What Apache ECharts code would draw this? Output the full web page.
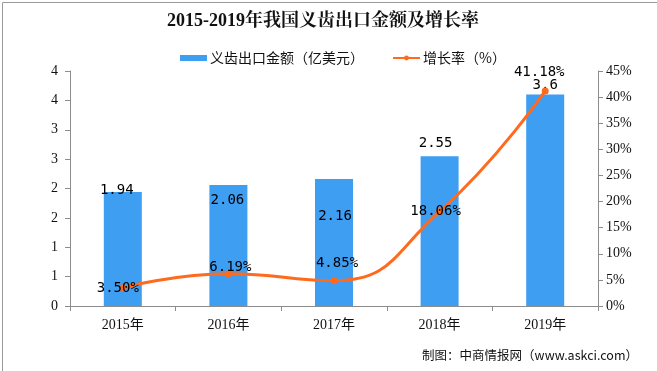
<!DOCTYPE html>
<html>
<head>
<meta charset="utf-8">
<script src="https://cdn.jsdelivr.net/npm/echarts@6/dist/echarts.min.js"></script>
<style>html,body{margin:0;padding:0;background:#fff}#c{width:657px;height:371px}</style>
</head>
<body>
<div id="c"></div>
<script>
const categories = ['2015年', '2016年', '2017年', '2018年', '2019年'];
const exportValues = [1.94, 2.06, 2.16, 2.55, 3.6];
const growthRates = [3.50, 6.19, 4.85, 18.06, 41.18];
const barName = '义齿出口金额（亿美元）';
const lineName = '增长率（%）';

const numFont = "'DejaVu Sans Mono', monospace";
const axisFont = "'Liberation Serif', 'Noto Sans CJK SC', serif";
const cjkFont = "'Noto Sans CJK SC', sans-serif";

const barLabelCfg = [
  {position: 'top', distance: 0, offset: [-6, 5]},
  {position: 'insideTop', distance: 5, offset: [-1, 3]},
  {position: 'insideTop', distance: 5, offset: [1, 25]},
  {position: 'top', distance: 6, offset: [-4, 0]},
  {position: 'top', distance: 2, offset: [0, 0]}
];
const lineLabelCfg = [
  {position: 'inside', offset: [-5, 1]},
  {position: 'inside', offset: [2, -6]},
  {position: 'inside', offset: [3, -17]},
  {position: 'inside', offset: [-4, 0]},
  {position: 'inside', offset: [-6, -19]}
];

const chart = echarts.init(document.getElementById('c'), null, {renderer: 'canvas'});
chart.setOption({
  animation: false,
  backgroundColor: '#fff',
  title: {
    text: '2015-2019年我国义齿出口金额及增长率',
    left: 167, top: 12,
    textStyle: {fontFamily: "'Liberation Serif', 'Noto Serif CJK SC', 'Noto Sans CJK SC', serif", fontSize: 18, fontWeight: 'bold', color: '#111'},
    padding: [0, 0, 0, 0],
    itemGap: 0
  },
  legend: {
    top: 46, left: 175,
    itemGap: 28,
    textStyle: {fontFamily: cjkFont, fontSize: 14, color: '#111', padding: [0, 0, 0, -2]},
    data: [
      {name: barName, icon: 'rect', itemStyle: {color: '#3E9EF2'}},
      {name: lineName}
    ],
    itemWidth: 27, itemHeight: 6
  },
  grid: {left: 70, right: 59, top: 71, bottom: 65},
  xAxis: {
    type: 'category',
    data: categories,
    axisLine: {lineStyle: {color: '#8c8c8c'}},
    axisTick: {show: true, length: 5, lineStyle: {color: '#8c8c8c'}},
    axisLabel: {fontFamily: axisFont, fontSize: 14, color: '#111', margin: 12}
  },
  yAxis: [
    {
      type: 'value', min: 0, max: 4, interval: 0.5,
      axisLine: {show: true, lineStyle: {color: '#8c8c8c'}},
      axisTick: {show: true, length: 5, lineStyle: {color: '#8c8c8c'}},
      splitLine: {show: false},
      axisLabel: {fontFamily: axisFont, fontSize: 14, color: '#111', margin: 12,
        formatter: v => String(Math.round(v))}
    },
    {
      type: 'value', min: 0, max: 45, interval: 5,
      axisLine: {show: true, lineStyle: {color: '#8c8c8c'}},
      axisTick: {show: true, length: 5, lineStyle: {color: '#8c8c8c'}},
      splitLine: {show: false},
      axisLabel: {fontFamily: axisFont, fontSize: 14, color: '#111', margin: 8,
        formatter: v => v + '%'}
    }
  ],
  series: [
    {
      name: barName, type: 'bar', yAxisIndex: 0,
      barWidth: 38,
      itemStyle: {color: '#3E9EF2'},
      data: exportValues.map((v, i) => ({
        value: v,
        label: Object.assign({show: true, fontFamily: numFont, fontSize: 14, color: '#000',
          formatter: p => String(p.value)}, barLabelCfg[i])
      })),
      z: 2
    },
    {
      name: lineName, type: 'line', yAxisIndex: 1,
      smooth: 0.5,
      symbol: 'circle', symbolSize: 7,
      lineStyle: {color: '#FF6A1C', width: 3},
      itemStyle: {color: '#FF6A1C'},
      data: growthRates.map((v, i) => ({
        value: v,
        label: Object.assign({show: true, fontFamily: numFont, fontSize: 14, color: '#000',
          formatter: p => p.value.toFixed(2) + '%'}, lineLabelCfg[i])
      })),
      z: 3
    }
  ],
  graphic: [
    {type: 'text', right: 19, bottom: 9,
      style: {text: '制图：中商情报网（www.askci.com）', fontFamily: cjkFont, fontSize: 12.5, fill: '#111'}},
    {type: 'rect', left: 0, top: 0, shape: {x: 0.5, y: 0.5, width: 655, height: 369},
      style: {fill: 'none', stroke: '#9a9a9a', lineWidth: 1}, silent: true}
  ]
});
</script>
</body>
</html>
